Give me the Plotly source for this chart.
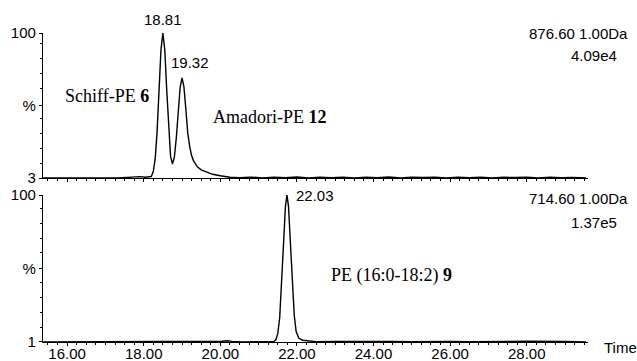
import plotly.graph_objects as go

# ---- data ----
top_time = [15.37, 15.8, 16.3, 16.8, 17.3, 17.7, 17.9, 18.05, 18.15, 18.2, 18.25, 18.3,
            18.35, 18.4, 18.45, 18.5, 18.55, 18.6, 18.65, 18.7, 18.75, 18.8, 18.85, 18.9,
            18.95, 19.0, 19.05, 19.1, 19.15, 19.2, 19.25, 19.3, 19.4, 19.5, 19.65, 19.8,
            20.0, 20.25, 20.5, 20.8, 21.1, 21.4, 21.7, 22.0, 22.3, 22.6, 22.9, 23.2, 23.5,
            23.8, 24.1, 24.4, 24.7, 25.0, 25.3, 25.6, 25.9, 26.2, 26.5, 26.8, 27.1, 27.4,
            27.7, 28.0, 28.3, 28.6, 28.9, 29.2, 29.55]
top_pct = [3.0, 3.1, 3.0, 3.1, 3.0, 3.6, 3.9, 3.5, 3.8, 4.1, 7.3, 16, 34.5, 61.8, 88.6,
           100, 88.6, 62, 35, 17.6, 12.4, 16.9, 29.6, 47.3, 63.4, 70, 64, 49, 33, 24, 18,
           14.5, 10.5, 8.5, 6.8, 5.5, 4.5, 3.5, 3.2, 3.6, 3.1, 3.5, 3.2, 3.7, 3.1, 3.6,
           3.2, 3.5, 3.0, 3.6, 3.2, 3.7, 3.1, 3.5, 3.3, 3.6, 3.1, 3.5, 3.2, 3.6, 3.0, 3.5,
           3.3, 3.6, 3.1, 3.5, 3.2, 3.4, 3.0]

bot_time = [15.37, 16.0, 17.0, 18.0, 19.0, 19.8, 20.05, 20.18, 20.3, 20.6, 21.0, 21.3,
            21.4, 21.45, 21.5, 21.55, 21.6, 21.65, 21.7, 21.74, 21.78, 21.83, 21.88, 21.93,
            21.98, 22.05, 22.15, 22.3, 22.5, 23.0, 23.5, 24.0, 24.5, 25.0, 25.5, 26.0, 26.5,
            27.0, 27.5, 28.0, 28.5, 29.0, 29.55]
bot_pct = [1.0, 1.0, 1.1, 1.0, 1.1, 1.2, 1.5, 1.8, 1.4, 1.1, 1.1, 1.2, 1.3, 2.5, 6.6, 17.3,
           38.2, 67, 92.4, 100, 92.4, 68, 40, 19, 8, 3.5, 2.2, 1.6, 1.2, 1.3, 1.5, 1.2,
           1.4, 1.2, 1.5, 1.3, 1.2, 1.5, 1.3, 1.5, 1.2, 1.4, 1.1]

peak_top_labels = ["18.81", "19.32"]
peak_top_pos = [18.5, 19.0]
peak_top_val = [100, 70]
peak_bot_label = "22.03"
peak_bot_pos = 21.74

x_tickvals = [16, 18, 20, 22, 24, 26, 28]
x_ticktext = ["16.00", "18.00", "20.00", "22.00", "24.00", "26.00", "28.00"]
top_ytext = ["3", "%", "100"]
bot_ytext = ["1", "%", "100"]

SANS = "Liberation Sans, Arial, sans-serif"
SERIF = "Liberation Serif, Times New Roman, serif"

fig = go.Figure()
fig.add_trace(go.Scatter(x=top_time, y=top_pct, mode="lines", xaxis="x", yaxis="y",
                         line=dict(color="black", width=1.4), showlegend=False))
fig.add_trace(go.Scatter(x=bot_time, y=bot_pct, mode="lines", xaxis="x2", yaxis="y2",
                         line=dict(color="black", width=1.4), showlegend=False))

xr = [15.37, 29.6]
xcommon = dict(range=xr, showline=True, linecolor="black", linewidth=1.3,
               ticks="outside", ticklen=3, tickcolor="black", showgrid=False,
               zeroline=False, tickvals=x_tickvals, ticktext=x_ticktext, automargin=False,
               minor=dict(ticks="outside", ticklen=2, dtick=0.25, tickcolor="black",
                          showgrid=False),
               tickfont=dict(family=SANS, size=15, color="black"))
ycommon = dict(showline=True, linecolor="black", linewidth=1.2, ticks="outside",
               ticklen=3, tickcolor="black", showgrid=False, zeroline=False,
               automargin=False,
               tickfont=dict(family=SANS, size=15, color="black"))

fig.update_layout(
    width=637, height=361,
    margin=dict(l=43, r=49, t=33, b=19),
    paper_bgcolor="white", plot_bgcolor="white",
    xaxis=dict(domain=[0, 1], anchor="y", showticklabels=False, **xcommon),
    xaxis2=dict(domain=[0, 1], anchor="y2", ticklabelstandoff=-5, **xcommon),
    yaxis=dict(domain=[0.5307, 1], anchor="x", range=[3, 100],
               tickvals=[3, 51.5, 100], ticktext=top_ytext,
               minor=dict(ticks="outside", ticklen=2, tickcolor="black",
                          tickmode="array", tickvals=[13, 23, 33, 43, 63, 73, 83, 93]),
               **ycommon),
    yaxis2=dict(domain=[0, 0.4757], anchor="x2", range=[1, 100],
                tickvals=[1, 50.5, 100], ticktext=bot_ytext,
                minor=dict(ticks="outside", ticklen=2, tickcolor="black",
                           tickmode="array", tickvals=[11, 21, 31, 41, 61, 71, 81, 91]),
                **ycommon),
)

ann = []
for lab, px, pv in zip(peak_top_labels, peak_top_pos, peak_top_val):
    ann.append(dict(x=px, y=pv, xref="x", yref="y", text=lab, showarrow=False,
                    xanchor="center", yanchor="bottom",
                    xshift=(0 if pv == 100 else 8), yshift=(3 if pv == 100 else 5),
                    font=dict(family=SANS, size=15, color="black")))
ann.append(dict(x=peak_bot_pos, y=100, xref="x2", yref="y2", text=peak_bot_label,
                showarrow=False, xanchor="left", yanchor="middle", xshift=7,
                font=dict(family=SANS, size=15, color="black")))

def pa(text, x, y, xanchor, family, size):
    return dict(x=x, y=y, xref="paper", yref="paper", text=text, showarrow=False,
                xanchor=xanchor, yanchor="middle",
                font=dict(family=family, size=size, color="black"))

ann += [
    pa("876.60 1.00Da", 1.077, 1.0, "right", SANS, 15),
    pa("4.09e4", 1.057, 0.9256, "right", SANS, 15),
    pa("714.60 1.00Da", 1.077, 0.4628, "right", SANS, 15),
    pa("1.37e5", 1.057, 0.3883, "right", SANS, 15),
    pa("Time", 1.0257, -0.0162, "left", SANS, 15),
    pa("Schiff-PE <b>6</b>", 0.0367, 0.796, "left", SERIF, 18),
    pa("Amadori-PE <b>12</b>", 0.308, 0.728, "left", SERIF, 18),
    pa("PE (16:0-18:2) <b>9</b>", 0.525, 0.2168, "left", SERIF, 18),
]
fig.update_layout(annotations=ann)

fig.write_html("out.html")
